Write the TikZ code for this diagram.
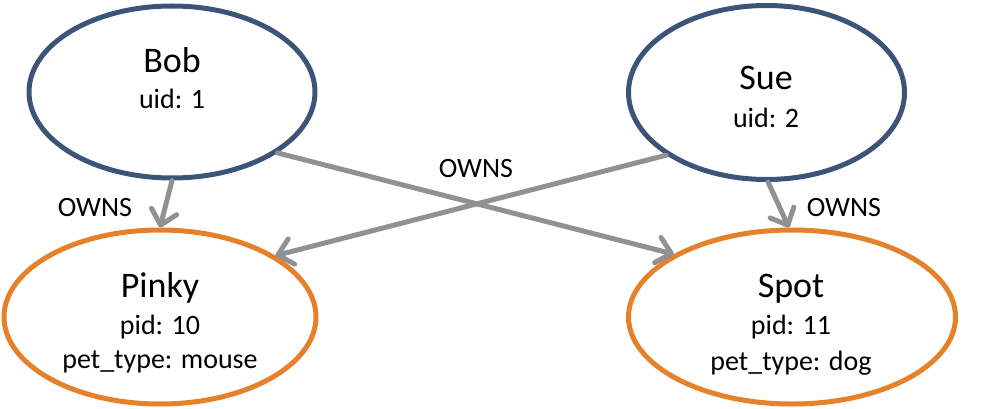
\documentclass[tikz,border=0pt]{standalone}
\usepackage{fontspec}
\setmainfont{Carlito}
\usetikzlibrary{shapes.geometric,arrows.meta}
\definecolor{ownerblue}{HTML}{3C5478}
\definecolor{petorange}{HTML}{E5812A}
\definecolor{arrowgray}{HTML}{919191}
\tikzset{
  owner/.style={ellipse, draw=ownerblue, line width=5pt, inner sep=0pt},
  pet/.style={ellipse, draw=petorange, line width=5pt, inner sep=0pt},
  title/.style={anchor=base, font=\fontsize{36}{40}\selectfont, inner sep=0pt},
  attr/.style={anchor=base, font=\fontsize{28}{32}\selectfont, inner sep=0pt},
  rel/.style={draw=arrowgray, line width=5pt, line cap=round,
    -{Straight Barb[length=14pt,width=26pt,line cap=round,line join=round]}},
  lbl/.style={anchor=base, font=\fontsize{28}{32}\selectfont, inner sep=0pt}
}
\begin{document}
\begin{tikzpicture}[x=1pt,y=-1pt]
\useasboundingbox (0,0) rectangle (982,409);
\node[owner, minimum width=286pt, minimum height=172pt] (bob) at (172,92) {};
\node[owner, minimum width=276pt, minimum height=174pt] (sue) at (766.5,92.5) {};
\node[pet, minimum width=312pt, minimum height=174pt] (pinky) at (160,317) {};
\node[pet, minimum width=327pt, minimum height=174pt] (spot) at (792,317) {};

\node[title] (bobname) at (172,73) {Bob};
\node[attr] (bobuid) at (172,109) {uid: 1};
\node[title] (suename) at (766,90) {Sue};
\node[attr] (sueuid) at (766,128) {uid: 2};
\node[title] (pinkyname) at (160,297) {Pinky};
\node[attr] (pinkypid) at (160,334) {pid: 10};
\node[attr] (pinkytype) at (160,368) {pet\_type: mouse};
\node[title] (spotname) at (791,297) {Spot};
\node[attr] (spotpid) at (791,334) {pid: 11};
\node[attr] (spottype) at (791,370) {pet\_type: dog};

\draw[rel] (bob.-90) -- (pinky.90.5);
\draw[rel] (bob.-30.6) -- (spot.152.5);
\draw[rel] (sue.-148.4) -- (pinky.28.7);
\draw[rel] (sue.-89.4) -- (spot.92);

\node[lbl] (owns1) at (95,216) {OWNS};
\node[lbl] (owns2) at (476,177) {OWNS};
\node[lbl] (owns3) at (844,216) {OWNS};
\end{tikzpicture}
\end{document}
